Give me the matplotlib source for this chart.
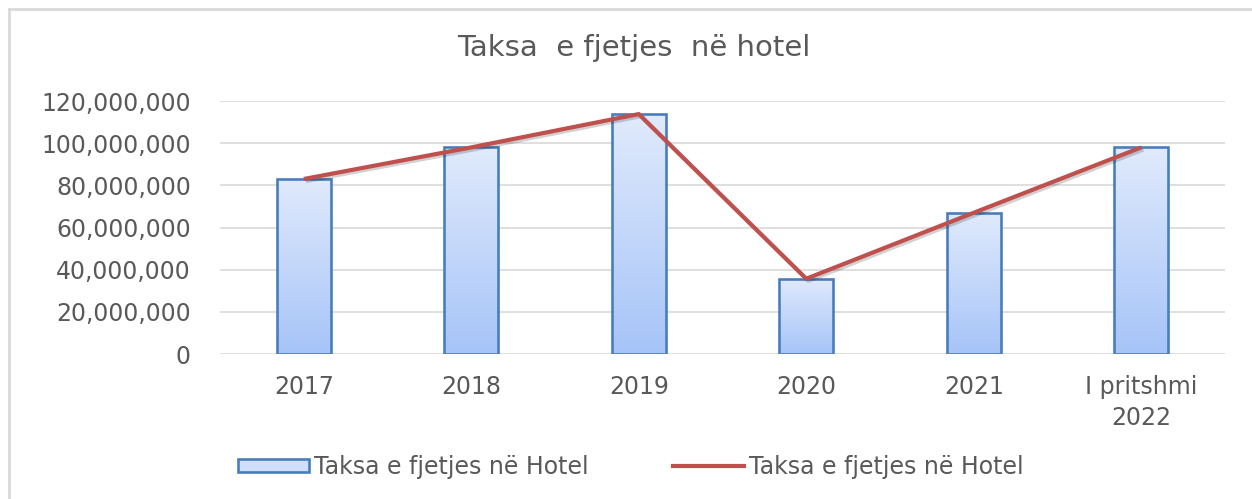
import matplotlib
matplotlib.use("Agg")
import matplotlib.pyplot as plt
import numpy as np
from matplotlib.patches import Patch
from matplotlib.lines import Line2D
from matplotlib.ticker import FuncFormatter, MultipleLocator
import matplotlib.patheffects as pe
from matplotlib.colors import LinearSegmentedColormap

categories = ["2017", "2018", "2019", "2020", "2021", "I pritshmi\n2022"]
bar_values = [83_000_000, 98_000_000, 113_800_000, 35_700_000, 67_000_000, 98_000_000]
line_values = [83_000_000, 98_000_000, 113_800_000, 35_700_000, 67_000_000, 98_000_000]
series_name = "Taksa e fjetjes në Hotel"
title = "Taksa  e fjetjes  në hotel"

W, H = 1252, 499
fig = plt.figure(figsize=(W / 100, H / 100), dpi=100)
plt.rcParams['font.family'] = ['DejaVu Sans']

ax = fig.add_axes([220 / W, (H - 354) / H, 1005 / W, 253 / H])

text_color = "#595959"
grid_color = "#d9d9d9"
edge_color = "#4a7ebb"
line_color = "#c0504d"

x = np.arange(len(categories))
bw = 0.32
bars = ax.bar(x, bar_values, width=bw, facecolor="none", edgecolor=edge_color,
              linewidth=1.9, zorder=3)

cmap = LinearSegmentedColormap.from_list("g", ["#a6c4f8", "#e0eafc"])
grad = np.linspace(0, 1, 256).reshape(-1, 1)
for b in bars:
    x0, y0 = b.get_x(), b.get_y()
    w, h = b.get_width(), b.get_height()
    im = ax.imshow(grad, extent=[x0, x0 + w, y0, y0 + h], origin="lower",
                   aspect="auto", cmap=cmap, zorder=2.5)
    im.set_clip_path(b)

ax.plot(x, line_values, color=line_color, linewidth=3.0, zorder=4,
        solid_capstyle="butt",
        path_effects=[pe.SimpleLineShadow(offset=(1.5, -1.5), shadow_color="black", alpha=0.18),
                      pe.Normal()])

ax.set_xlim(-0.5, len(categories) - 0.5)
ax.set_ylim(0, 120_000_000)
ax.yaxis.set_major_locator(MultipleLocator(20_000_000))
ax.yaxis.set_major_formatter(FuncFormatter(lambda v, p: f"{v:,.0f}"))
ax.set_xticks(x)
ax.set_xticklabels(categories, linespacing=1.4)
ax.grid(axis="y", color=grid_color, linewidth=1.2, zorder=0)
ax.set_axisbelow(True)
for s in ax.spines.values():
    s.set_visible(False)
ax.tick_params(axis="both", length=0, labelsize=17, labelcolor=text_color)
ax.tick_params(axis="y", pad=21)
ax.tick_params(axis="x", pad=15)

fig.text(634 / W, 1 - 48 / H, title, ha="center", va="center", fontsize=21, color=text_color)

handles = [Patch(facecolor="#cfdffb", edgecolor=edge_color, linewidth=1.9),
           Line2D([0], [0], color=line_color, linewidth=3.0)]
fig.legend(handles, [series_name, series_name], loc="center left", bbox_to_anchor=(238 / W, 1 - 467 / H),
           ncol=2, frameon=False, fontsize=17, labelcolor=text_color,
           handlelength=3.0, handleheight=0.5, handletextpad=0.2, columnspacing=3.6,
           borderpad=0, borderaxespad=0)

fig.add_artist(Line2D([9 / W, 9 / W], [-0.05, 1 - 9 / H], transform=fig.transFigure,
                      color=grid_color, linewidth=2.0))
fig.add_artist(Line2D([9 / W, 1.05], [1 - 9 / H, 1 - 9 / H], transform=fig.transFigure,
                      color=grid_color, linewidth=2.0))

fig.savefig("out.png", dpi=100, facecolor="white")
